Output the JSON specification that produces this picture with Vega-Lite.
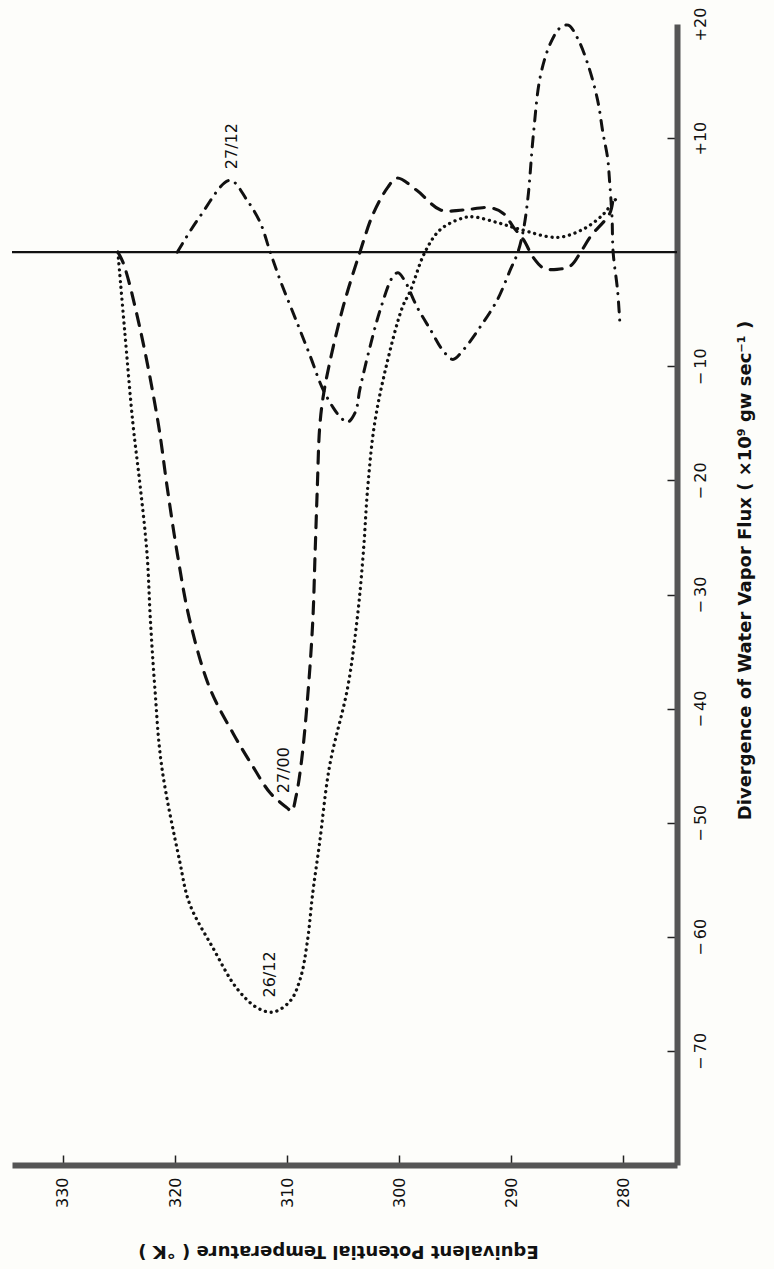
{
  "$schema": "https://vega.github.io/schema/vega-lite/v6.json",
  "width": 665,
  "height": 1141,
  "autosize": "none",
  "padding": {"left": 12, "top": 24, "right": 97, "bottom": 104},
  "background": "#fdfdfa",
  "config": {"view": {"stroke": null}, "font": "DejaVu Sans"},
  "data": {
    "values": [
      {"kind": "zero", "series": "zero", "theta": 275.2, "div": 0},
      {"kind": "zero", "series": "zero", "theta": 334.55, "div": 0},

      {"kind": "curve", "series": "26/12", "theta": 325.1, "div": 0},
      {"kind": "curve", "series": "26/12", "theta": 324.5, "div": -6.8},
      {"kind": "curve", "series": "26/12", "theta": 323.75, "div": -15.1},
      {"kind": "curve", "series": "26/12", "theta": 323.1, "div": -20.6},
      {"kind": "curve", "series": "26/12", "theta": 322.5, "div": -26.4},
      {"kind": "curve", "series": "26/12", "theta": 322.2, "div": -32.2},
      {"kind": "curve", "series": "26/12", "theta": 321.8, "div": -38.2},
      {"kind": "curve", "series": "26/12", "theta": 321.2, "div": -45.0},
      {"kind": "curve", "series": "26/12", "theta": 319.6, "div": -53.3},
      {"kind": "curve", "series": "26/12", "theta": 318.7, "div": -57.1},
      {"kind": "curve", "series": "26/12", "theta": 316.6, "div": -61.0},
      {"kind": "curve", "series": "26/12", "theta": 314.5, "div": -64.5},
      {"kind": "curve", "series": "26/12", "theta": 312.7, "div": -66.2},
      {"kind": "curve", "series": "26/12", "theta": 311.25, "div": -66.6},
      {"kind": "curve", "series": "26/12", "theta": 309.7, "div": -65.6},
      {"kind": "curve", "series": "26/12", "theta": 308.8, "div": -63.6},
      {"kind": "curve", "series": "26/12", "theta": 308.2, "div": -60.5},
      {"kind": "curve", "series": "26/12", "theta": 307.7, "div": -56.1},
      {"kind": "curve", "series": "26/12", "theta": 307.1, "div": -51.8},
      {"kind": "curve", "series": "26/12", "theta": 306.2, "div": -45.0},
      {"kind": "curve", "series": "26/12", "theta": 304.6, "div": -38.2},
      {"kind": "curve", "series": "26/12", "theta": 303.75, "div": -32.2},
      {"kind": "curve", "series": "26/12", "theta": 303.2, "div": -26.4},
      {"kind": "curve", "series": "26/12", "theta": 302.8, "div": -20.6},
      {"kind": "curve", "series": "26/12", "theta": 302.2, "div": -15.1},
      {"kind": "curve", "series": "26/12", "theta": 301.2, "div": -10.2},
      {"kind": "curve", "series": "26/12", "theta": 299.7, "div": -4.8},
      {"kind": "curve", "series": "26/12", "theta": 299.0, "div": -3.4},
      {"kind": "curve", "series": "26/12", "theta": 297.7, "div": 0},
      {"kind": "curve", "series": "26/12", "theta": 296.3, "div": 2.0},
      {"kind": "curve", "series": "26/12", "theta": 294.3, "div": 3.0},
      {"kind": "curve", "series": "26/12", "theta": 293.4, "div": 3.1},
      {"kind": "curve", "series": "26/12", "theta": 291.25, "div": 2.6},
      {"kind": "curve", "series": "26/12", "theta": 289.2, "div": 2.0},
      {"kind": "curve", "series": "26/12", "theta": 285.9, "div": 1.3},
      {"kind": "curve", "series": "26/12", "theta": 283.6, "div": 2.0},
      {"kind": "curve", "series": "26/12", "theta": 281.8, "div": 3.3},
      {"kind": "curve", "series": "26/12", "theta": 280.9, "div": 4.4},
      {"kind": "curve", "series": "26/12", "theta": 280.5, "div": 4.8},

      {"kind": "curve", "series": "27/00", "theta": 325.1, "div": 0},
      {"kind": "curve", "series": "27/00", "theta": 324.6, "div": -1.0},
      {"kind": "curve", "series": "27/00", "theta": 323.1, "div": -6.8},
      {"kind": "curve", "series": "27/00", "theta": 321.5, "div": -15.0},
      {"kind": "curve", "series": "27/00", "theta": 320.7, "div": -20.6},
      {"kind": "curve", "series": "27/00", "theta": 319.8, "div": -26.4},
      {"kind": "curve", "series": "27/00", "theta": 318.7, "div": -32.2},
      {"kind": "curve", "series": "27/00", "theta": 316.9, "div": -38.2},
      {"kind": "curve", "series": "27/00", "theta": 314.8, "div": -42.2},
      {"kind": "curve", "series": "27/00", "theta": 313.1, "div": -45.0},
      {"kind": "curve", "series": "27/00", "theta": 311.5, "div": -47.4},
      {"kind": "curve", "series": "27/00", "theta": 310.0, "div": -48.7},
      {"kind": "curve", "series": "27/00", "theta": 309.6, "div": -49.0},
      {"kind": "curve", "series": "27/00", "theta": 309.2, "div": -47.7},
      {"kind": "curve", "series": "27/00", "theta": 308.7, "div": -44.5},
      {"kind": "curve", "series": "27/00", "theta": 308.1, "div": -38.2},
      {"kind": "curve", "series": "27/00", "theta": 307.7, "div": -32.2},
      {"kind": "curve", "series": "27/00", "theta": 307.5, "div": -26.4},
      {"kind": "curve", "series": "27/00", "theta": 307.3, "div": -20.6},
      {"kind": "curve", "series": "27/00", "theta": 307.1, "div": -15.5},
      {"kind": "curve", "series": "27/00", "theta": 306.8, "div": -12.8},
      {"kind": "curve", "series": "27/00", "theta": 306.2, "div": -9.7},
      {"kind": "curve", "series": "27/00", "theta": 305.0, "div": -4.8},
      {"kind": "curve", "series": "27/00", "theta": 303.5, "div": 0},
      {"kind": "curve", "series": "27/00", "theta": 302.3, "div": 3.4},
      {"kind": "curve", "series": "27/00", "theta": 301.0, "div": 5.7},
      {"kind": "curve", "series": "27/00", "theta": 300.2, "div": 6.5},
      {"kind": "curve", "series": "27/00", "theta": 298.4, "div": 5.4},
      {"kind": "curve", "series": "27/00", "theta": 296.3, "div": 3.7},
      {"kind": "curve", "series": "27/00", "theta": 294.3, "div": 3.7},
      {"kind": "curve", "series": "27/00", "theta": 291.9, "div": 3.9},
      {"kind": "curve", "series": "27/00", "theta": 290.7, "div": 3.4},
      {"kind": "curve", "series": "27/00", "theta": 289.8, "div": 2.2},
      {"kind": "curve", "series": "27/00", "theta": 288.9, "div": 1.1},
      {"kind": "curve", "series": "27/00", "theta": 288.0, "div": -0.5},
      {"kind": "curve", "series": "27/00", "theta": 287.1, "div": -1.4},
      {"kind": "curve", "series": "27/00", "theta": 285.9, "div": -1.5},
      {"kind": "curve", "series": "27/00", "theta": 284.7, "div": -1.2},
      {"kind": "curve", "series": "27/00", "theta": 283.8, "div": 0},
      {"kind": "curve", "series": "27/00", "theta": 282.9, "div": 1.4},
      {"kind": "curve", "series": "27/00", "theta": 281.2, "div": 3.4},
      {"kind": "curve", "series": "27/00", "theta": 280.9, "div": 4.8},

      {"kind": "curve", "series": "27/12", "theta": 319.8, "div": 0},
      {"kind": "curve", "series": "27/12", "theta": 317.8, "div": 3.1},
      {"kind": "curve", "series": "27/12", "theta": 315.1, "div": 6.3},
      {"kind": "curve", "series": "27/12", "theta": 313.6, "div": 4.6},
      {"kind": "curve", "series": "27/12", "theta": 312.4, "div": 2.6},
      {"kind": "curve", "series": "27/12", "theta": 311.5, "div": 0},
      {"kind": "curve", "series": "27/12", "theta": 310.6, "div": -2.5},
      {"kind": "curve", "series": "27/12", "theta": 309.1, "div": -6.2},
      {"kind": "curve", "series": "27/12", "theta": 307.9, "div": -9.2},
      {"kind": "curve", "series": "27/12", "theta": 306.9, "div": -11.8},
      {"kind": "curve", "series": "27/12", "theta": 305.9, "div": -13.6},
      {"kind": "curve", "series": "27/12", "theta": 305.2, "div": -14.5},
      {"kind": "curve", "series": "27/12", "theta": 304.6, "div": -14.9},
      {"kind": "curve", "series": "27/12", "theta": 303.9, "div": -14.0},
      {"kind": "curve", "series": "27/12", "theta": 303.5, "div": -12.0},
      {"kind": "curve", "series": "27/12", "theta": 302.6, "div": -8.3},
      {"kind": "curve", "series": "27/12", "theta": 301.7, "div": -5.1},
      {"kind": "curve", "series": "27/12", "theta": 300.6, "div": -2.2},
      {"kind": "curve", "series": "27/12", "theta": 300.1, "div": -1.8},
      {"kind": "curve", "series": "27/12", "theta": 299.5, "div": -2.5},
      {"kind": "curve", "series": "27/12", "theta": 298.4, "div": -4.8},
      {"kind": "curve", "series": "27/12", "theta": 297.2, "div": -6.8},
      {"kind": "curve", "series": "27/12", "theta": 296.1, "div": -8.6},
      {"kind": "curve", "series": "27/12", "theta": 295.2, "div": -9.4},
      {"kind": "curve", "series": "27/12", "theta": 294.3, "div": -8.6},
      {"kind": "curve", "series": "27/12", "theta": 292.8, "div": -6.6},
      {"kind": "curve", "series": "27/12", "theta": 291.25, "div": -4.2},
      {"kind": "curve", "series": "27/12", "theta": 290.1, "div": -1.6},
      {"kind": "curve", "series": "27/12", "theta": 289.4, "div": 0},
      {"kind": "curve", "series": "27/12", "theta": 288.9, "div": 2.0},
      {"kind": "curve", "series": "27/12", "theta": 288.5, "div": 4.8},
      {"kind": "curve", "series": "27/12", "theta": 288.0, "div": 10.5},
      {"kind": "curve", "series": "27/12", "theta": 287.4, "div": 15.4},
      {"kind": "curve", "series": "27/12", "theta": 286.5, "div": 18.3},
      {"kind": "curve", "series": "27/12", "theta": 285.6, "div": 19.7},
      {"kind": "curve", "series": "27/12", "theta": 284.9, "div": 19.9},
      {"kind": "curve", "series": "27/12", "theta": 284.1, "div": 18.8},
      {"kind": "curve", "series": "27/12", "theta": 283.2, "div": 16.6},
      {"kind": "curve", "series": "27/12", "theta": 282.3, "div": 13.4},
      {"kind": "curve", "series": "27/12", "theta": 281.8, "div": 10.4},
      {"kind": "curve", "series": "27/12", "theta": 281.4, "div": 8.3},
      {"kind": "curve", "series": "27/12", "theta": 281.2, "div": 6.0},
      {"kind": "curve", "series": "27/12", "theta": 281.0, "div": 3.1},
      {"kind": "curve", "series": "27/12", "theta": 280.9, "div": 0},
      {"kind": "curve", "series": "27/12", "theta": 280.5, "div": -3.4},
      {"kind": "curve", "series": "27/12", "theta": 280.3, "div": -6.2},

      {"kind": "label", "series": "27/12", "label": "27/12", "theta": 314.9, "div": 9.3},
      {"kind": "label", "series": "27/00", "label": "27/00", "theta": 310.3, "div": -45.4},
      {"kind": "label", "series": "26/12", "label": "26/12", "theta": 311.5, "div": -63.3}
    ]
  },
  "encoding": {
    "x": {
      "field": "theta",
      "type": "quantitative",
      "scale": {"domain": [275.2, 334.55], "reverse": true, "nice": false, "zero": false},
      "axis": {
        "orient": "bottom",
        "values": [280, 290, 300, 310, 320, 330],
        "grid": false,
        "domainColor": "#555555",
        "domainWidth": 6,
        "tickColor": "#222222",
        "tickWidth": 1.5,
        "tickSize": -10,
        "labelAngle": 270,
        "labelAlign": "right",
        "labelBaseline": "middle",
        "labelPadding": 22,
        "labelFlush": false,
        "labelOverlap": false,
        "labelFont": "DejaVu Sans",
        "labelFontSize": 16,
        "labelColor": "#111111",
        "title": "Equivalent Potential Temperature ( °K )",
        "titleAngle": 180,
        "titleX": 326,
        "titleY": 85,
        "titleAlign": "center",
        "titleBaseline": "middle",
        "titleFont": "DejaVu Sans",
        "titleFontSize": 18,
        "titleFontWeight": "bold",
        "titleColor": "#111111"
      }
    },
    "y": {
      "field": "div",
      "type": "quantitative",
      "scale": {"domain": [-80, 20], "nice": false, "zero": false},
      "axis": {
        "orient": "right",
        "values": [-70, -60, -50, -40, -30, -20, -10, 10, 20],
        "labelExpr": "datum.value > 0 ? '+' + datum.value : '−\u2009' + abs(datum.value)",
        "grid": false,
        "domainColor": "#555555",
        "domainWidth": 6,
        "tickColor": {"condition": {"test": "datum.value == 20", "value": "transparent"}, "value": "#222222"},
        "tickWidth": 1.5,
        "tickSize": -10,
        "labelAngle": 270,
        "labelAlign": "center",
        "labelBaseline": "middle",
        "labelPadding": 33,
        "labelFlush": false,
        "labelOverlap": false,
        "labelFont": "DejaVu Sans",
        "labelFontSize": 16,
        "labelColor": "#111111",
        "title": "Divergence of Water Vapor Flux ( ×10⁹ gw sec⁻¹ )",
        "titleAngle": 270,
        "titleX": 68,
        "titleY": 546,
        "titleAlign": "center",
        "titleBaseline": "middle",
        "titleFont": "DejaVu Sans",
        "titleFontSize": 18,
        "titleFontWeight": "bold",
        "titleColor": "#111111"
      }
    }
  },
  "layer": [
    {
      "transform": [{"filter": "datum.kind == 'zero'"}],
      "mark": {"type": "line", "color": "#111111", "strokeWidth": 2.2},
      "encoding": {}
    },
    {
      "transform": [{"filter": "datum.kind == 'curve'"}],
      "mark": {"type": "line", "interpolate": "catmull-rom", "color": "#111111", "strokeCap": "round"},
      "encoding": {
        "detail": {"field": "series", "type": "nominal"},
        "strokeDash": {
          "field": "series",
          "type": "nominal",
          "scale": {"domain": ["26/12", "27/00", "27/12"], "range": [[0.1, 5.8], [12, 9.5], [10, 8, 0.1, 8]]},
          "legend": null
        },
        "strokeWidth": {
          "field": "series",
          "type": "nominal",
          "scale": {"domain": ["26/12", "27/00", "27/12"], "range": [3.3, 3, 3]},
          "legend": null
        }
      }
    },
    {
      "transform": [{"filter": "datum.kind == 'label'"}],
      "mark": {"type": "text", "angle": 270, "align": "center", "baseline": "middle", "font": "DejaVu Sans", "fontSize": 16, "color": "#111111"},
      "encoding": {
        "text": {"field": "label", "type": "nominal"}
      }
    }
  ]
}
